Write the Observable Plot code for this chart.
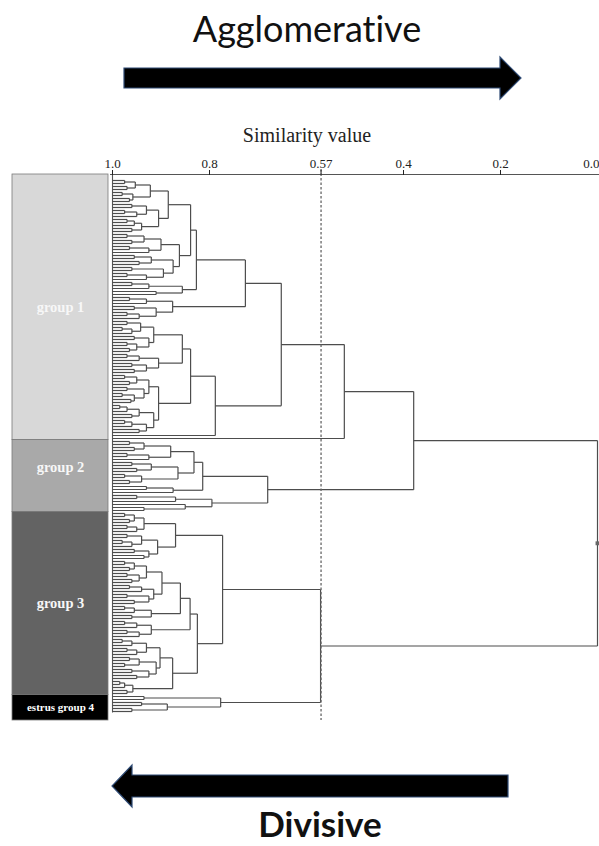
<!DOCTYPE html>
<html><head><meta charset="utf-8">
<script src="https://cdn.jsdelivr.net/npm/d3@7"></script>
<script src="https://cdn.jsdelivr.net/npm/@observablehq/plot@0.6"></script>
<style>
body{margin:0;background:#fff}
#page{position:relative;width:599px;height:846px;overflow:hidden;background:#fff}
#deco{position:absolute;left:0;top:0}
#deco text{font-variant-ligatures:none;font-feature-settings:"liga" 0}
#chart{position:absolute;left:0;top:115px}
</style></head>
<body>
<div id="page">
<svg id="deco" width="599" height="846">
  <text x="307" y="42" text-anchor="middle" font-family="Lato" font-size="36" fill="#111">Agglomerative</text>
  <polygon points="124,68 500,68 500,57 521,78 500,99 500,88 124,88" fill="#000" stroke="#2e4a74" stroke-width="1.2"/>
  <text x="307" y="142" text-anchor="middle" font-family="Liberation Serif, Times New Roman, serif" font-size="20" fill="#222">Similarity value</text>
  <polygon points="508,775 132,775 132,765 112,786 132,807 132,797 508,797" fill="#000" stroke="#2e4a74" stroke-width="1.2"/>
  <text x="320" y="837" text-anchor="middle" font-family="Lato" font-weight="bold" font-size="35" fill="#111">Divisive</text>
</svg>
<div id="chart"></div>
</div>
<script>
// ---- data: dendrogram; node = [similarity, child, child], leaf = 0
const groupNames = ["group 1", "group 2", "group 3", "estrus group 4"];

const group1Tree = [0.522,
  [0.652,
    [0.726,
      [0.827,
        [0.839,
          [0.885,
            [0.922, [0.953,[0.975,0,0],[0.97,0,0]], [0.958,[0.98,0,0],[0.965,0,0]]],
            [0.905, [0.93,[0.96,0,0],[0.95,[0.975,0,0],0]], [0.94,[0.955,[0.97,0,0],0],[0.96,0,0]]]],
          [0.862,
            [0.9,[0.935,[0.97,0,0],[0.96,0,0]],[0.925,[0.965,0,0],0]],
            [0.875,[0.92,[0.955,0,0],[0.945,0,0]],[0.895,[0.96,0,0],[0.93,[0.97,0,0],0]]]]],
        [0.856,[0.925,[0.96,0,0],0],[0.91,0,0]]],
      [0.876, [0.93,[0.965,0,0],0], [0.91,[0.955,0,0],[0.945,[0.97,0,0],0]]]],
    [0.788,
      [0.839,
        [0.856,
          [0.915,[0.942,[0.97,0,0],[0.96,[0.98,0,0],0]],[0.925,[0.955,0,0],[0.95,[0.97,0,0],[0.965,0,0]]]],
          [0.905,[0.945,[0.97,0,0],0],[0.93,[0.96,0,0],[0.955,0,0]]]],
        [0.905,
          [0.925,[0.95,[0.975,0,0],[0.965,0,0]],[0.935,[0.97,0,0],[0.955,[0.98,0,0],[0.962,0,0]]]],
          [0.915,[0.945,[0.97,[0.985,0,0],0],[0.96,0,0]],[0.93,[0.96,[0.975,0,0],0],[0.945,0,0]]]]],
      0]],
  0];

const group2Tree = [0.680,
  [0.814,
    [0.832,
      [0.88,[0.935,[0.965,0,0],[0.955,0,0]],[0.925,[0.97,0,0],0]],
      [0.865,[0.92,[0.96,0,0],[0.95,0,0]],[0.94,[0.975,0,0],[0.965,0,0]]]],
    [0.875,[0.93,0,0],0]],
  [0.795,[0.87,[0.95,0,0],0],[0.85,0,[0.935,0,0]]]];

const group3Tree = [0.773,
  [0.870,
    [0.935,[0.955,[0.975,0,0],[0.965,0,0]],[0.95,[0.97,0,0],0]],
    [0.907,[0.94,[0.97,0,0],[0.96,[0.98,0,0],0]],[0.925,[0.955,0,0],[0.935,0,0]]]],
  [0.825,
    [0.840,
      [0.86,
        [0.898,[0.93,[0.955,[0.975,0,0],[0.965,0,0]],[0.945,[0.97,0,0],[0.96,0,0]]],[0.915,[0.94,[0.965,0,0],0],[0.925,[0.97,0,0],[0.955,0,0]]]],
        [0.92,[0.955,[0.975,0,0],0],[0.96,0,0]]],
      [0.92,[0.95,[0.975,0,0],0],[0.945,[0.97,0,0],0]]],
    [0.876,
      [0.902,[0.93,[0.96,[0.98,0,0],0],[0.95,[0.97,0,0],0]],[0.91,[0.945,[0.965,0,0],[0.975,0,0]],[0.925,[0.96,0,0],[0.95,0,0]]]],
      [0.958,[0.975,[0.985,0,0],0],[0.97,0,0]]]]];

const group4Tree = [0.777,[0.935,0,0],[0.887,[0.94,0,0],[0.96,0,0]]];

const join12 = 0.379;   // group 1 + group 2
const join34 = 0.571;   // group 3 + estrus group 4
const rootSim = 0.0;
const cutoff = 0.57;
const tickValues = [1.0, 0.8, 0.57, 0.4, 0.2, 0.0];
const tickLabels = ["1.0", "0.8", "0.57", "0.4", "0.2", "0.0"];

// ---- styles
const groupFills = ["#d8d8d8", "#a9a9a9", "#636363", "#000000"];
const serif = "Liberation Serif, Times New Roman, serif";

// ---- layout of the tree (leaf order index on y, similarity on x)
const segs = [];
let leafCount = 0;
function walk(node) {
  if (node === 0) return {x: 1, y: leafCount++};
  const [sim, ...kids] = node;
  const placed = kids.map(walk);
  return join(sim, placed);
}
function join(sim, placed) {
  for (const k of placed) segs.push({x1: k.x, x2: sim, y1: k.y, y2: k.y});
  const a = placed[0].y, b = placed[placed.length - 1].y;
  segs.push({x1: sim, x2: sim, y1: a, y2: b});
  return {x: sim, y: (a + b) / 2};
}
const spans = [];
const placedGroups = [group1Tree, group2Tree, group3Tree, group4Tree].map(t => {
  const start = leafCount;
  const p = walk(t);
  spans.push({start, end: leafCount - 1});
  return p;
});
const nodeA = join(join12, [placedGroups[0], placedGroups[1]]);
const nodeB = join(join34, [placedGroups[2], placedGroups[3]]);
const root = join(rootSim, [nodeA, nodeB]);
const N = leafCount;

// pixel geometry
const xLeft = 112, xRight = 597;
const px2sim = px => 1 - (px - xLeft) / (xRight - xLeft);
const boxes = spans.map((s, i) => {
  const y1 = i === 0 ? s.start - 2 : s.start - 0.5;
  const y2 = i === spans.length - 1 ? s.end + 3 : s.end + 0.5;
  return {
    name: groupNames[i], fill: groupFills[i],
    x1: px2sim(12), x2: px2sim(108), xc: px2sim(60),
    y1, y2, yc: (i === 1 ? -3 : 0) + (y1 + y2) / 2
  };
});

const axisStyle = {anchor: "top", tickSize: 5, tickPadding: 2, fontSize: 13, fontFamily: serif, color: "#222", label: null};
const innerTicks = tickValues.filter(v => v !== 0);
const chart = Plot.plot({
  width: 599, height: 615,
  marginTop: 59, marginLeft: xLeft, marginRight: 599 - xRight, marginBottom: 0,
  x: {domain: [1, 0], range: [xLeft, xRight]},
  y: {domain: [0, N - 1], range: [65, 596], axis: null},
  marks: [
    Plot.rect(boxes, {x1: "x1", x2: "x2", y1: "y1", y2: "y2", fill: "fill", stroke: "#7a7a7a", strokeWidth: 0.8}),
    Plot.text(boxes.slice(0, 3), {x: "xc", y: "yc", text: "name", fill: "#f7f7f7", fontWeight: "bold", fontSize: 14.5, fontFamily: serif}),
    Plot.text(boxes.slice(3), {x: "xc", y: "yc", text: "name", fill: "#ffffff", fontWeight: "bold", fontSize: 11, fontFamily: serif}),
    Plot.ruleY([-2], {x1: px2sim(110), x2: px2sim(600), stroke: "#555", strokeWidth: 1.2}),
    Plot.ruleX([1], {y1: -2, y2: N - 0.5, stroke: "#555", strokeWidth: 1.1}),
    Plot.link(segs, {x1: "x1", y1: "y1", x2: "x2", y2: "y2", stroke: "#4d4d4d", strokeWidth: 1.2}),
    Plot.ruleX([cutoff], {y1: -3.7, y2: N + 2, stroke: "#666", strokeWidth: 1.3, strokeDasharray: "2.5,2"}),
    Plot.dot([root], {x: "x", y: "y", symbol: "square", r: 2.2, fill: "#666"}),
    Plot.axisX(innerTicks, {...axisStyle, tickFormat: d => tickLabels[tickValues.indexOf(d)]}),
    Plot.axisX([0], {...axisStyle, tickFormat: d => tickLabels[tickValues.indexOf(d)], textAnchor: "end", dx: 2})
  ]
});
document.getElementById("chart").appendChild(chart);
</script>
</body></html>
